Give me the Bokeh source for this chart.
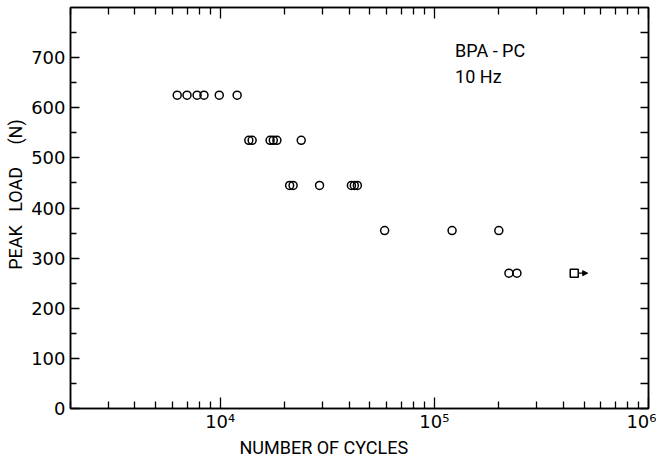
from bokeh.plotting import figure
from bokeh.models import (FixedTicker, LogAxis, LinearAxis, CustomJSTickFormatter,
                          Label, Arrow, NormalHead, Range1d, Title)
from bokeh.embed import file_html
from bokeh.resources import INLINE

# ---- data ----
cycles_625 = [6300, 7000, 7800, 8400, 9900, 12000]
load_625 = [625] * 6
cycles_535 = [13600, 14100, 17100, 17700, 18400, 23900]
load_535 = [535] * 6
cycles_445 = [21100, 21900, 29100, 41000, 42300, 43700]
load_445 = [445] * 6
cycles_355 = [58600, 121000, 200000]
load_355 = [355] * 3
cycles_270 = [223000, 243000]
load_270 = [270] * 2
runout_cycles = [450000]
runout_load = [270]
runout_arrow_end = [520000]

x_major = [1e4, 1e5, 1e6]
x_minor = [m * 10 ** e for e in (3, 4, 5) for m in range(2, 10)]
y_major = [0, 100, 200, 300, 400, 500, 600, 700]
y_minor = [50, 150, 250, 350, 450, 550, 650, 750]

TICK_FONT = "DejaVu Sans"
LABEL_FONT = "Roboto"
NB = "\u00a0"

p = figure(width=656, height=457, x_axis_type="log",
           x_range=Range1d(2000, 1e6), y_range=Range1d(0, 800),
           output_backend="svg", toolbar_location=None,
           min_border_left=70, min_border_right=8, min_border_top=7,
           min_border_bottom=44)
p.grid.visible = False
p.outline_line_color = "black"
p.outline_line_width = 1.5
p.background_fill_color = "white"
p.border_fill_color = "white"

sup = CustomJSTickFormatter(code="""
const s = {"0":"\u2070","1":"\u00b9","2":"\u00b2","3":"\u00b3","4":"\u2074","5":"\u2075","6":"\u2076","7":"\u2077","8":"\u2078","9":"\u2079"};
const e = Math.round(Math.log10(tick));
return "10" + String(e).split("").map(c => s[c]).join("");
""")
blank = CustomJSTickFormatter(code="return '';")

xt = FixedTicker(ticks=x_major, minor_ticks=x_minor)
yt = FixedTicker(ticks=y_major, minor_ticks=y_minor)

xa = p.xaxis[0]
xa.ticker = xt
xa.formatter = sup
ya = p.yaxis[0]
ya.ticker = yt

for ax in (xa, ya):
    ax.axis_line_color = "black"
    ax.axis_line_width = 1.5
    ax.major_tick_line_color = "black"
    ax.minor_tick_line_color = "black"
    ax.major_tick_line_width = 1.3
    ax.minor_tick_line_width = 1.3
    ax.major_tick_out = 0
    ax.minor_tick_out = 0
    ax.major_label_text_font = TICK_FONT
    ax.major_label_text_font_size = "18px"
    ax.major_label_text_color = "black"

xa.major_tick_in = 11
xa.minor_tick_in = 7
xa.major_label_standoff = 2
ya.major_tick_in = 9
ya.minor_tick_in = 6
ya.major_label_standoff = 5
ya.axis_label = NB * 6 + "PEAK" + NB * 3 + "LOAD" + NB * 5 + "(N)"
ya.axis_label_text_font = LABEL_FONT
ya.axis_label_text_font_size = "18px"
ya.axis_label_text_font_style = "normal"
ya.axis_label_text_color = "black"
ya.axis_label_standoff = 2

top = LogAxis(ticker=xt, formatter=blank, major_tick_in=11, minor_tick_in=7, major_tick_out=0,
              minor_tick_out=0, major_label_standoff=0, major_label_text_font_size="1px",
              axis_line_width=1.5, major_tick_line_width=1.3, minor_tick_line_width=1.3)
right = LinearAxis(ticker=yt, formatter=blank, major_tick_in=8, minor_tick_in=8, major_tick_out=0,
                   minor_tick_out=0, major_label_standoff=0, major_label_text_font_size="1px",
                   axis_line_width=1.5, major_tick_line_width=1.3, minor_tick_line_width=1.3)
p.add_layout(top, "above")
p.add_layout(right, "right")

for xs, ys in ((cycles_625, load_625), (cycles_535, load_535), (cycles_445, load_445),
               (cycles_355, load_355), (cycles_270, load_270)):
    p.scatter(xs, ys, marker="circle", size=8, fill_color=None,
              line_color="black", line_width=1.5)

p.scatter(runout_cycles, runout_load, marker="square", size=8, fill_color=None,
          line_color="black", line_width=1.5)
p.add_layout(Arrow(end=NormalHead(size=5, fill_color="black", line_color="black"),
                   x_start=runout_cycles[0] * 1.045, y_start=runout_load[0],
                   x_end=runout_arrow_end[0], y_end=runout_load[0],
                   line_width=1.2, line_color="black"))

p.add_layout(Label(x=1.25e5, y=715, text="BPA - PC", text_font=LABEL_FONT,
                   text_font_size="18px", text_baseline="middle", text_color="black"))
p.add_layout(Label(x=1.25e5, y=662, text="10 Hz", text_font=LABEL_FONT,
                   text_font_size="18px", text_baseline="middle", text_color="black"))
p.add_layout(Title(text="NUMBER OF CYCLES", align="left", offset=169, standoff=0,
                   text_font=LABEL_FONT, text_font_size="18px",
                   text_font_style="normal", text_color="black"), "below")

open("out.html", "w").write(file_html(p, INLINE))
